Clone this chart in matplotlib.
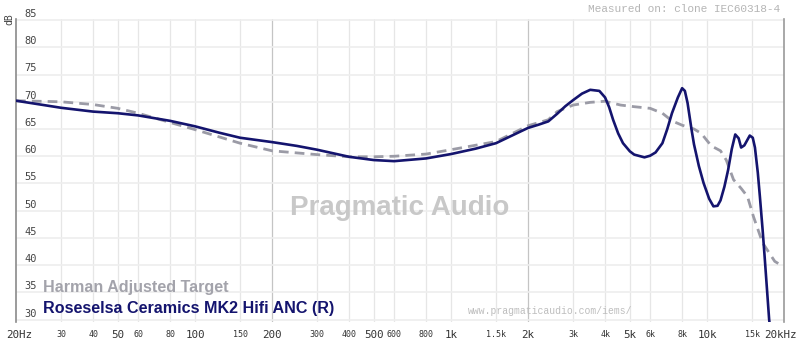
import numpy as np
import matplotlib
matplotlib.use('Agg')
import matplotlib.pyplot as plt
import matplotlib.transforms as mtransforms

# frequency response values (Hz, dB)
iem_freq = [20, 30, 40, 50, 60, 80, 100, 125, 150, 200, 250, 300, 400, 500, 600, 800,
            1000, 1250, 1500, 2000, 2200, 2400, 2600, 2800, 3000, 3250, 3500, 3800, 4000,
            4150, 4300, 4500, 4700, 5000, 5200, 5700, 6000, 6300, 6700, 7000, 7300, 7700,
            8000, 8200, 8400, 8700, 8900, 9300, 9700, 10200, 10600, 11000, 11300, 11700,
            12100, 12500, 12900, 13300, 13600, 14000, 14700, 15100, 15400, 15800, 16100,
            16500, 16800, 17500, 18000]
iem_db = [70.2, 68.9, 68.2, 67.9, 67.5, 66.5, 65.5, 64.3, 63.4, 62.6, 61.9, 61.2, 59.9,
          59.3, 59.1, 59.6, 60.4, 61.4, 62.4, 65.2, 65.8, 66.4, 67.8, 69.2, 70.3, 71.5,
          72.2, 72.0, 70.8, 69.0, 66.7, 64.2, 62.4, 60.9, 60.3, 59.8, 60.1, 60.7, 62.4,
          65.0, 67.9, 70.8, 72.5, 72.0, 69.8, 65.0, 62.2, 58.2, 55.1, 52.2, 50.8, 50.9,
          51.9, 54.4, 57.5, 61.3, 64.0, 63.3, 61.6, 62.0, 63.8, 63.4, 61.6, 57.0, 52.6,
          46.5, 41.6, 30.0, 25.0]

target_freq = [20, 30, 40, 50, 60, 80, 100, 150, 200, 300, 400, 500, 600, 800, 1000,
               1500, 2000, 2400, 2600, 3000, 3500, 4000, 4600, 5200, 6000, 6700, 7300,
               8000, 8900, 9500, 10400, 11300, 11900, 12700, 13600, 14400, 15200,
               16500, 18400, 19000]
target_db = [70.2, 70.0, 69.5, 68.8, 67.9, 66.2, 64.9, 62.4, 61.0, 60.3, 59.9, 59.9, 60.0,
             60.4, 61.2, 62.7, 65.6, 66.7, 68.2, 69.4, 69.9, 70.1, 69.4, 69.1, 68.8,
             67.9, 66.5, 65.7, 65.0, 64.2, 61.9, 61.0, 59.3, 55.7, 54.1, 52.6, 48.9,
             44.1, 40.7, 40.3]

tick_freqs = [20, 30, 40, 50, 60, 80, 100, 150, 200, 300, 400, 500, 600, 800, 1000,
              1500, 2000, 3000, 4000, 5000, 6000, 8000, 10000, 15000, 20000]
tick_labels = ['20Hz', '30', '40', '50', '60', '80', '100', '150', '200', '300', '400',
               '500', '600', '800', '1k', '1.5k', '2k', '3k', '4k', '5k', '6k', '8k',
               '10k', '15k', '20kHz']
big_labels = ['20Hz', '50', '100', '200', '500', '1k', '2k', '5k', '10k', '20kHz']
db_ticks = [30, 35, 40, 45, 50, 55, 60, 65, 70, 75, 80, 85]

navy = '#14146e'
gray = '#9b9ba6'
mono = 'DejaVu Sans Mono'

fig = plt.figure(figsize=(8, 3.46), dpi=100)
ax = fig.add_axes([0.02, 0.07, 0.96, 0.875])
ax.set_xscale('log')
ax.set_xlim(20, 20000)
ax.set_ylim(29.6, 85.2)

# grid
for f in tick_freqs[1:-1]:
    c = '#c4c4c4' if f in (200, 2000) else '#e6e6e6'
    ax.axvline(f, color=c, lw=0.9, zorder=0)
for d in db_ticks:
    ax.axhline(d, color='#eeeeee', lw=1.2, zorder=0)

ax.plot(target_freq, target_db, color=gray, lw=2.0, dashes=(3.5, 2.2), zorder=2)
ax.plot(iem_freq, iem_db, color=navy, lw=1.9, zorder=3, solid_joinstyle='round')

ax.set_xticks(tick_freqs)
ax.set_xticklabels(tick_labels)
ax.xaxis.set_minor_locator(matplotlib.ticker.NullLocator())
ax.tick_params(axis='x', length=0, pad=6, colors='#333333')
for lbl in ax.get_xticklabels():
    lbl.set_family(mono)
    lbl.set_fontsize(7.8 if lbl.get_text() in big_labels else 6)

# nudge the end labels so they stay inside the figure
first, last = ax.get_xticklabels()[0], ax.get_xticklabels()[-1]
first.set_transform(first.get_transform() + mtransforms.ScaledTranslation(3 / 100, 0, fig.dpi_scale_trans))
last.set_transform(last.get_transform() + mtransforms.ScaledTranslation(-4 / 100, 0, fig.dpi_scale_trans))

# dB labels sit just inside the left spine
for d in db_ticks:
    ax.text(0.011, d + 0.2, str(d), transform=ax.get_yaxis_transform(),
            fontsize=7.5, family=mono, color='#444444', va='bottom', ha='left')
ax.set_yticks([])

for s in ('top', 'bottom'):
    ax.spines[s].set_visible(False)
ax.spines['left'].set_color('#8a8a8a')
ax.spines['left'].set_linewidth(1.2)
ax.spines['right'].set_color('#9a9a9a')
ax.spines['right'].set_linewidth(1.2)

fig.text(0.012, 0.945, 'dB', rotation=90, fontsize=7, family=mono, color='#444444',
         ha='center', va='center')
fig.text(0.975, 0.975, 'Measured on: clone IEC60318-4', fontsize=8, family='Liberation Mono',
         color='#b5b5b5', ha='right', va='center')
fig.text(0.5, 0.40, 'Pragmatic Audio', fontsize=20, family='Liberation Sans',
         weight='bold', color='#c8c8c8', ha='center', va='center')
fig.text(0.585, 0.10, 'www.pragmaticaudio.com/iems/', fontsize=7, family='Liberation Mono',
         color='#bdbdbd', ha='left', va='center')
fig.text(0.054, 0.17, 'Harman Adjusted Target', fontsize=11.6, family='Liberation Sans',
         weight='bold', color='#a3a3ab', ha='left', va='center')
fig.text(0.054, 0.108, 'Roseselsa Ceramics MK2 Hifi ANC (R)', fontsize=11.6,
         family='Liberation Sans', weight='bold', color=navy, ha='left', va='center')

fig.savefig('out.png', dpi=100)
